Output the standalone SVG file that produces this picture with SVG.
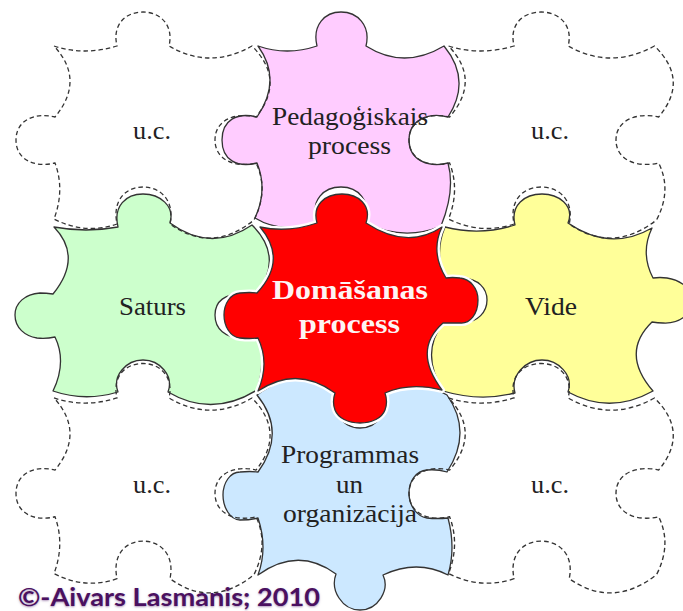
<svg xmlns="http://www.w3.org/2000/svg" xmlns:xlink="http://www.w3.org/1999/xlink" width="683" height="611" viewBox="0 0 683 611">
<style>
.e{stroke:#333;stroke-width:1.3;stroke-linejoin:round;vector-effect:non-scaling-stroke}
.d{fill:none;stroke:#333;stroke-width:1.3;stroke-dasharray:4.5 3;vector-effect:non-scaling-stroke}
.h{fill:none;stroke:#fff;stroke-width:6;stroke-linejoin:round}
.t{font-family:"Liberation Serif","Times New Roman",serif;font-size:26px;fill:#222}
.b{font-family:"Liberation Serif","Times New Roman",serif;font-size:28px;font-weight:bold;fill:#fdf4f4}
.c{font-family:Lato,"Liberation Sans",sans-serif;font-size:24px;font-weight:700;fill:#4a1060;text-shadow:0 1px 2px rgba(120,80,140,.6)}
</style>
<defs>
<path id="tpl" d="M54,46Q85,56 117,46C112,25 125,12 143,12C160,12 174,25 169,46Q210,70 252,46Q286,80 256,117C235,112 215,120 215,140C215,160 235,168 256,163Q269,190 254,220Q212,254 170,224C175,200 160,187 143,187C126,187 112,200 117,224Q85,235 54,219Q65,190 55,163C35,168 16,160 16,140C16,120 35,112 55,117Q85.5,80 54,46Z"/>
<path id="red" d="M260,227Q288,233 317,223C312,205 325,194 342,194C358,194 372,205 366,223Q407,250 442,227Q430,252 446,278Q452,277 460,278C470,279 478,288 478,300C478,314 470,324 460,323Q452,323 443,323Q412,350 442,390Q410,382 385,393Q388,402 385,410C382,418 372,423 360,423C348,423 338,418 335,410Q332,402 335,393Q297,365 258,391Q270,363 258,338Q250,339 240,338C230,337 224,326 224,315C224,304 230,294 240,293Q250,292 257,293Q288,260 260,227Z"/>
</defs>
<g id="piece-saturs"><path class="e" fill="#ccffcc" d="M54,227Q86,233 118,227C113,206 126,194 143,194C160,194 175,206 170,223Q211,253 252,225Q284,257 257,293Q248,292 240,293C226,295 215,300 215,315C215,330 226,337 240,338Q248,339 258,338Q266,362 257,390Q212,418 168,392C174,376 160,360 143,360C126,360 112,376 118,392Q85,402 53,391Q67,362 55,337Q46,339 37,338C25,336 15,328 15,315C15,303 25,294 40,293Q46,293 53,294Q83,257 54,227Z"/><text class="t" x="152.5" y="315" text-anchor="middle" textLength="67" lengthAdjust="spacingAndGlyphs">Saturs</text></g>
<g id="piece-pedagogiskais"><path class="e" fill="#ffccff" d="M258,46Q287,56 317,46C312,25 325,12 341,12C357,12 371,25 366,46Q404,70 444,46Q472,80 448,117C428,112 409,120 409,140C409,160 428,168 448,163Q455.5,190 441,226Q404,241.5 366,223C371,200 358,187 341,187C324,187 310,200 317,221Q283,235 255,218Q268,190 257,163C237,168 222,160 222,140C222,120 237,112 257,117Q282.5,80 258,46Z"/></g>
<g id="piece-vide"><path class="e" fill="#ffff99" d="M445,227Q480,236 515,225C510,205 525,194 542,194C558,194 575,205 568,223Q610,252 652,228Q640,253 653,278Q660,277 667,278C680,280 692,288 692,300C692,314 680,324 663,323Q658,323 652,322Q620,353 653,391Q610,415 568,392C574,375 558,360 542,360C526,360 510,375 515,393Q480,402 443,391Q420,353 443,323Q452,324 463,323C478,322 487,312 487,300C487,288 478,279 463,278Q452,277 445,278Q434,253 445,227Z"/><text class="t" x="551" y="315" text-anchor="middle" textLength="52" lengthAdjust="spacingAndGlyphs">Vide</text></g>
<g id="piece-programmas"><path class="e" fill="#cce8ff" d="M257,395Q297,365 336,390C332,408 340,428 360,428C380,428 388,408 385,393Q417,377 447,395Q473,432 447,472Q437,469 427,470C416,471 409,481 409,493C409,505 416,516 427,518Q437,519 448,518Q456,548 448,575Q417,559 383,575C390,590 378,610 360,610C342,610 330,590 336,574Q298,546 258,575Q268,548 258,518Q250,520 240,520C230,520 223,507 223,495C223,483 230,472 240,472Q250,471 258,472Q287,432 257,395Z"/></g>
<g id="piece-domasanas"><use xlink:href="#red" href="#red" class="h"/><use xlink:href="#red" href="#red" class="e" fill="#ff0000"/></g>
<g id="piece-uc-tl"><use xlink:href="#tpl" href="#tpl" class="d"/><text class="t" x="152" y="139" text-anchor="middle" textLength="38" lengthAdjust="spacingAndGlyphs">u.c.</text></g>
<g id="piece-uc-tr"><use xlink:href="#tpl" href="#tpl" class="d" transform="matrix(1.04,0,0,1,392.4,0)"/><text class="t" x="550" y="139" text-anchor="middle" textLength="38" lengthAdjust="spacingAndGlyphs">u.c.</text></g>
<g id="piece-uc-bl"><use xlink:href="#tpl" href="#tpl" class="d" transform="matrix(1,0,0,1.015,0,351.3)"/><text class="t" x="152" y="493" text-anchor="middle" textLength="38" lengthAdjust="spacingAndGlyphs">u.c.</text></g>
<g id="piece-uc-br"><use xlink:href="#tpl" href="#tpl" class="d" transform="matrix(1.04,0,0,1.015,392.4,351.3)"/><text class="t" x="550" y="493" text-anchor="middle" textLength="38" lengthAdjust="spacingAndGlyphs">u.c.</text></g>
<g id="labels">
<text class="t" x="350" y="125" text-anchor="middle" textLength="156" lengthAdjust="spacingAndGlyphs">Pedagoģiskais</text>
<text class="t" x="349.5" y="154" text-anchor="middle" textLength="83" lengthAdjust="spacingAndGlyphs">process</text>
<text class="b" x="350" y="299" text-anchor="middle" textLength="156" lengthAdjust="spacingAndGlyphs">Domāšanas</text>
<text class="b" x="349.5" y="333" text-anchor="middle" textLength="101" lengthAdjust="spacingAndGlyphs">process</text>
<text class="t" x="350" y="463" text-anchor="middle" textLength="138" lengthAdjust="spacingAndGlyphs">Programmas</text>
<text class="t" x="349.5" y="493" text-anchor="middle" textLength="27" lengthAdjust="spacingAndGlyphs">un</text>
<text class="t" x="350" y="522" text-anchor="middle" textLength="134" lengthAdjust="spacingAndGlyphs">organizācija</text>
<text class="c" x="18" y="605.5" textLength="302" lengthAdjust="spacingAndGlyphs">©-Aivars Lasmanis; 2010</text>
</g>
</svg>
